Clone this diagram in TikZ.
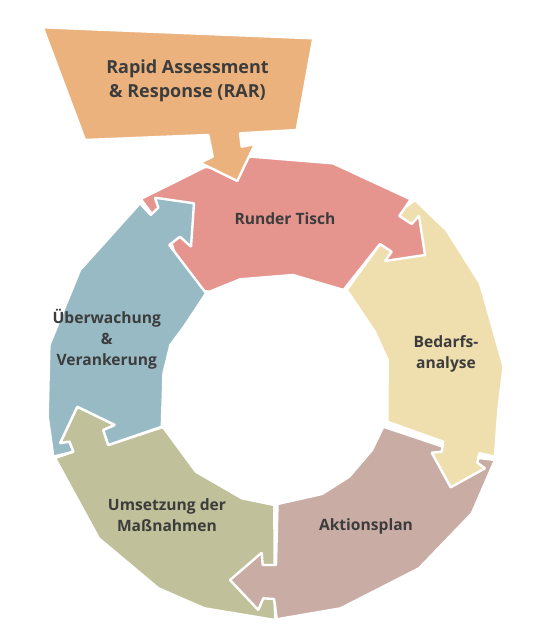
\documentclass[tikz,border=0pt]{standalone}
\usepackage{fontspec}
\setmainfont{Open Sans}
\usepackage{xcolor}
\usepackage{tikz}
\definecolor{rarcol}{HTML}{EBB27E}
\definecolor{tischcol}{HTML}{E5958E}
\definecolor{bedarfcol}{HTML}{EFDFAF}
\definecolor{plancol}{HTML}{C9ADA5}
\definecolor{umsetzcol}{HTML}{C0C19A}
\definecolor{ueberwcol}{HTML}{98BAC4}
\definecolor{labelcol}{HTML}{3C3C3C}

\begin{document}
\begin{tikzpicture}[x=1pt,y=-1pt,
  piece/.style={draw=white,line width=2.4pt,line join=bevel},
  lbl/.style={text=labelcol,font=\bfseries\fontsize{15.6}{21}\selectfont,align=center}]
\useasboundingbox (0,0) rectangle (534,643);
\filldraw[piece,fill=umsetzcol] (55,458) -- (73.3,451.7) -- (69.3,441.7) -- (60,443.3) -- (77.3,406.7) -- (115,425) -- (103.3,430) -- (108.3,445) -- (163,427) -- (195.9,471.7) -- (241.9,498.3) -- (274.3,505) -- (275,620) -- (204.4,608.3) -- (158.4,588.3) -- (98.8,538.3) -- cycle;
\filldraw[piece,fill=plancol] (383.3,426.7) -- (441,446) -- (470,465) -- (479,458) -- (495,460) -- (471.9,513.3) -- (419,568.3) -- (340.7,608.3) -- (276.7,619.3) -- (275,605) -- (274,599) -- (263.3,598.3) -- (258.3,610) -- (230,580) -- (261.7,552.7) -- (262.7,565) -- (276,565) -- (277.5,504) -- (322,494) -- (349.2,476.7) -- (372,450) -- cycle;
\filldraw[piece,fill=bedarfcol] (415,200) -- (446.3,230) -- (480,283.3) -- (486.7,306.7) -- (503.6,366.7) -- (498.3,410) -- (495,456.7) -- (479.3,453.3) -- (477.3,462.7) -- (485,468.3) -- (450.7,487.3) -- (431.7,452.7) -- (441.7,451.7) -- (443.3,441.7) -- (387.3,421.7) -- (387.7,360) -- (374.8,331.7) -- (346.7,290) -- (380,244) -- (390,240) -- (395,215) -- cycle;
\filldraw[piece,fill=tischcol] (140.7,199) -- (205,167) -- (238,170) -- (247,156.3) -- (332.9,163.3) -- (410.7,199.3) -- (399.3,216) -- (411.7,224) -- (419,215.7) -- (425,255) -- (385,261) -- (391.7,251.7) -- (380,244) -- (343.5,290) -- (293,275) -- (240.2,279.3) -- (209.5,291.7) -- (195,290) -- (175,255) -- (165,220) -- (152,214) -- cycle;
\filldraw[piece,fill=ueberwcol] (53.3,456.7) -- (47.7,416.7) -- (49.4,345) -- (80,270) -- (140,203.3) -- (150.7,215) -- (158.3,207.7) -- (155,197.7) -- (194,203.3) -- (191,246.7) -- (180,236.7) -- (169.3,245) -- (206.1,293.3) -- (184,326.7) -- (170.4,345) -- (163.5,373.3) -- (161.8,426.7) -- (108.3,445) -- (103.3,430) -- (115,425) -- (77.3,406.7) -- (60,443.3) -- (69.3,441.7) -- (73.3,451.7) -- cycle;
\filldraw[piece,fill=rarcol] (42.7,27.3) -- (313.3,38.3) -- (296.7,130) -- (240,133.3) -- (241.7,146.7) -- (255,144) -- (237.3,181) -- (200,162.7) -- (212.7,156.7) -- (208.3,135) -- (85,140) -- cycle;
\node[lbl,font=\bfseries\fontsize{18}{24}\selectfont] (rar) at (187.5,80.5) {Rapid Assessment\\\& Response (RAR)};
\node[lbl] (tisch) at (285,218.3) {Runder Tisch};
\node[lbl] (ueberw) at (106.8,339) {Überwachung\\\&\\Verankerung};
\node[lbl] (bedarf) at (446,353.7) {Bedarfs-\\analyse};
\node[lbl] (umsetz) at (167,515.5) {Umsetzung der\\Maßnahmen};
\node[lbl] (plan) at (366,526.7) {Aktionsplan};
\end{tikzpicture}
\end{document}
